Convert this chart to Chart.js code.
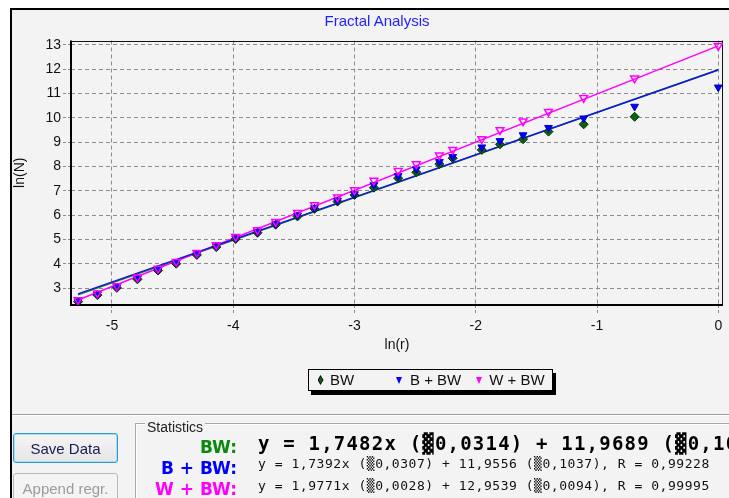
<!DOCTYPE html>
<html><head><meta charset="utf-8">
<script src="https://cdn.jsdelivr.net/npm/chart.js@4/dist/chart.umd.min.js"></script>
<style>
html,body{margin:0;padding:0;background:#fff;width:729px;height:498px;overflow:hidden;position:relative;font-family:"Liberation Sans",Arial,sans-serif;}
#panel{position:absolute;left:10px;top:8px;width:719px;height:490px;background:#f3f3f3;border-left:2px solid #000;border-top:2px solid #000;box-sizing:border-box;}
#c{position:absolute;left:0;top:0;}
.abs{position:absolute;white-space:nowrap;line-height:1;}
#title{left:277px;width:200px;text-align:center;top:12.8px;font-size:15px;color:#1f1fff;}
#legend{position:absolute;left:308px;top:369px;width:245px;height:22px;box-sizing:border-box;border:1px solid #000;background:#f3f3f3;box-shadow:3px 4px 0 #000;}
#legend .t{position:absolute;top:2.3px;font-size:15px;line-height:1;color:#111;white-space:nowrap;}
.tri{position:absolute;width:0;height:0;border-left:3.5px solid transparent;border-right:3.5px solid transparent;border-top:7px solid #00f;top:6.5px;}
.dia{position:absolute;width:6px;height:10px;background:#000;clip-path:polygon(50% 0,100% 50%,50% 100%,0 50%);top:5px;}
.dia i{position:absolute;left:1px;top:1.5px;width:4px;height:7px;background:#0b6a0b;clip-path:polygon(50% 0,100% 50%,50% 100%,0 50%);}
#sep{position:absolute;left:12px;top:414px;width:717px;height:1px;background:#a0a0a0;border-bottom:1px solid #fff;}
#group{position:absolute;left:135px;top:423px;width:600px;height:80px;border-left:1px solid #a8a8a8;border-top:1px solid #a8a8a8;box-shadow:inset 1px 1px 0 #fff;}
#glabel{left:145px;top:419.9px;font-size:14px;color:#222;background:#f3f3f3;padding:0 2px;}
.btn{position:absolute;left:13px;width:105px;height:30px;box-sizing:border-box;border-radius:3px;font-size:15px;display:flex;align-items:center;justify-content:center;line-height:1;}
#save{top:433px;border:1px solid #3399cc;background:linear-gradient(#f5f5f5,#e6e6e6);box-shadow:inset 0 0 0 1px #a5def5;color:#1b1b50;}
#append{top:473px;border:1px solid #b8b8b8;background:#f4f4f4;color:#9c9c9c;}
.lab{right:492px;font-family:"DejaVu Sans",sans-serif;font-weight:bold;font-size:17px;}
.eq1{left:258px;top:433.9px;font-family:"DejaVu Sans Mono",monospace;font-weight:bold;font-size:19px;letter-spacing:1.2px;color:#000;}
.eq2{left:258px;font-family:"DejaVu Sans Mono",monospace;font-size:13px;letter-spacing:0.54px;color:#111;}
</style>
</head><body>
<div id="panel"></div>
<canvas id="c" width="729" height="498"></canvas>
<div id="title" class="abs">Fractal Analysis</div>
<div id="legend">
  <div class="dia" style="left:8.5px"><i></i></div><span class="t" style="left:21px">BW</span>
  <div class="tri" style="left:87.2px;border-top-color:#0000ff"></div><span class="t" style="left:101px">B + BW</span>
  <div class="tri" style="left:166.8px;border-top-color:#ff00ff"></div><span class="t" style="left:180.3px">W + BW</span>
</div>
<div id="sep"></div>
<div id="group"></div>
<div id="glabel" class="abs">Statistics</div>
<div id="save" class="btn">Save Data</div>
<div id="append" class="btn">Append regr.</div>
<div class="abs lab" style="top:438.9px;color:#0a8a0a">BW:</div>
<div class="abs lab" style="top:459.6px;color:#0000ff">B + BW:</div>
<div class="abs lab" style="top:480.6px;color:#ff00ff">W + BW:</div>
<div class="abs eq1">y = 1,7482x (▓0,0314) + 11,9689 (▓0,10</div>
<div class="abs eq2" style="top:457.3px">y = 1,7392x (▒0,0307) + 11,9556 (▒0,1037), R = 0,99228</div>
<div class="abs eq2" style="top:479px">y = 1,9771x (▒0,0028) + 12,9539 (▒0,0094), R = 0,99995</div>
<script>
// ln(r) positions of the measurements
const lnR = [-5.28, -5.12, -4.96, -4.79, -4.62, -4.47, -4.30, -4.14, -3.98, -3.80, -3.65, -3.47, -3.33, -3.14, -3.00,
             -2.84, -2.64, -2.49, -2.30, -2.19, -1.95, -1.80, -1.61, -1.40, -1.11, -0.69, 0.00];
// ln(N) values per series
const bwLnN  = [2.45, 2.72, 3.02, 3.37, 3.73, 4.01, 4.37, 4.69, 5.02, 5.28, 5.61, 5.95, 6.26, 6.56, 6.83,
                7.13, 7.52, 7.76, 8.10, 8.34, 8.68, 8.91, 9.12, 9.43, 9.73, 10.04, null];
const bbwLnN = [2.47, 2.75, 3.05, 3.40, 3.76, 4.04, 4.40, 4.72, 5.05, 5.31, 5.64, 5.99, 6.30, 6.60, 6.87,
                7.24, 7.61, 7.89, 8.19, 8.40, 8.79, 9.05, 9.29, 9.59, 9.98, 10.46, 11.25];
const wbwLnN = [2.52, 2.80, 3.09, 3.45, 3.81, 4.09, 4.46, 4.78, 5.12, 5.39, 5.73, 6.10, 6.42, 6.74, 7.03,
                7.42, 7.82, 8.10, 8.46, 8.69, 9.13, 9.50, 9.86, 10.25, 10.82, 11.62, 12.95];
// regression line end points (as drawn)
const fitX    = [-5.28, 0.00];
const bwFit   = [2.73, 11.97];
const bbwFit  = [2.77, 11.96];
const wbwFit  = [2.52, 12.95];
// axis ticks
const xTicks = [-5, -4, -3, -2, -1, 0];
const yTicks = [3, 4, 5, 6, 7, 8, 9, 10, 11, 12, 13];

const pts = ys => ys.map((y, i) => ({x: lnR[i], y})).filter(p => p.y !== null);
const seg = ys => fitX.map((x, i) => ({x, y: ys[i]}));

const frame = {
  id: 'frame',
  beforeDatasetsDraw(chart) {
    const {ctx, chartArea: a} = chart;
    ctx.save();
    ctx.strokeStyle = '#111';
    ctx.lineWidth = 1;
    ctx.beginPath();
    ctx.moveTo(a.left, Math.round(a.top) + 0.5); ctx.lineTo(a.right, Math.round(a.top) + 0.5);
    ctx.moveTo(Math.round(a.right) - 0.5, a.top); ctx.lineTo(Math.round(a.right) - 0.5, a.bottom);
    ctx.stroke();
    ctx.strokeStyle = '#000';
    ctx.lineWidth = 2;
    ctx.beginPath();
    ctx.moveTo(Math.round(a.left), a.top); ctx.lineTo(Math.round(a.left), Math.round(a.bottom));
    ctx.lineTo(a.right, Math.round(a.bottom));
    ctx.stroke();
    ctx.restore();
  }
};

const tickFont = {family: 'Liberation Sans', size: 14};
new Chart(document.getElementById('c'), {
  type: 'scatter',
  data: {
    datasets: [
      {label: 'BW fit', data: seg(bwFit), showLine: true, borderColor: '#108a10', borderWidth: 1.5, pointRadius: 0, order: 6},
      {label: 'W + BW fit', data: seg(wbwFit), showLine: true, borderColor: '#ff00ff', borderWidth: 1.5, pointRadius: 0, order: 5},
      {label: 'B + BW fit', data: seg(bbwFit), showLine: true, borderColor: '#1414e6', borderWidth: 1.5, pointRadius: 0, order: 4},
      {label: 'BW', data: pts(bwLnN), pointStyle: 'rectRot', pointRadius: 4.5, backgroundColor: '#0b640b', borderColor: '#042a04', borderWidth: 1, order: 3},
      {label: 'B + BW', data: pts(bbwLnN), pointStyle: 'triangle', pointRotation: 180, pointRadius: 4.5, backgroundColor: '#0000ff', borderColor: '#0000c0', borderWidth: 1, order: 2},
      {label: 'W + BW', data: pts(wbwLnN), pointStyle: 'triangle', pointRotation: 180, pointRadius: 4.5, backgroundColor: 'rgba(0,0,0,0)', borderColor: '#ff00ff', borderWidth: 1.5, order: 1}
    ]
  },
  options: {
    responsive: false,
    animation: false,
    devicePixelRatio: 1,
    layout: {padding: {left: 0, right: 1.5, top: 40.5, bottom: 138}},
    plugins: {legend: {display: false}, tooltip: {enabled: false}, title: {display: false}},
    scales: {
      x: {
        type: 'linear', min: -5.338, max: 0.039,
        afterBuildTicks: s => { s.ticks = xTicks.map(v => ({value: v})); },
        ticks: {color: '#111', font: tickFont, padding: 5, maxRotation: 0, autoSkip: false},
        grid: {color: '#8c8c8c', lineWidth: 1, tickLength: 8, tickColor: '#8c8c8c', tickBorderDash: [3, 2]},
        border: {display: false, dash: [4, 3]},
        title: {display: true, text: 'ln(r)', color: '#111', font: tickFont, padding: {top: 0, bottom: 6.6}},
        afterFit: s => { s.height = 55; }
      },
      y: {
        type: 'linear', min: 2.314, max: 13.17,
        afterBuildTicks: s => { s.ticks = yTicks.map(v => ({value: v})); },
        ticks: {color: '#111', font: tickFont, padding: 2, autoSkip: false},
        grid: {color: '#8c8c8c', lineWidth: 1, tickLength: 8, tickColor: '#8c8c8c', tickBorderDash: [3, 2]},
        border: {display: false, dash: [4, 3]},
        title: {display: true, text: 'ln(N)', color: '#111', font: tickFont, padding: {top: 11.6, bottom: 0}},
        afterFit: s => { s.width = 71; }
      }
    }
  },
  plugins: [frame]
});
</script>
</body></html>
